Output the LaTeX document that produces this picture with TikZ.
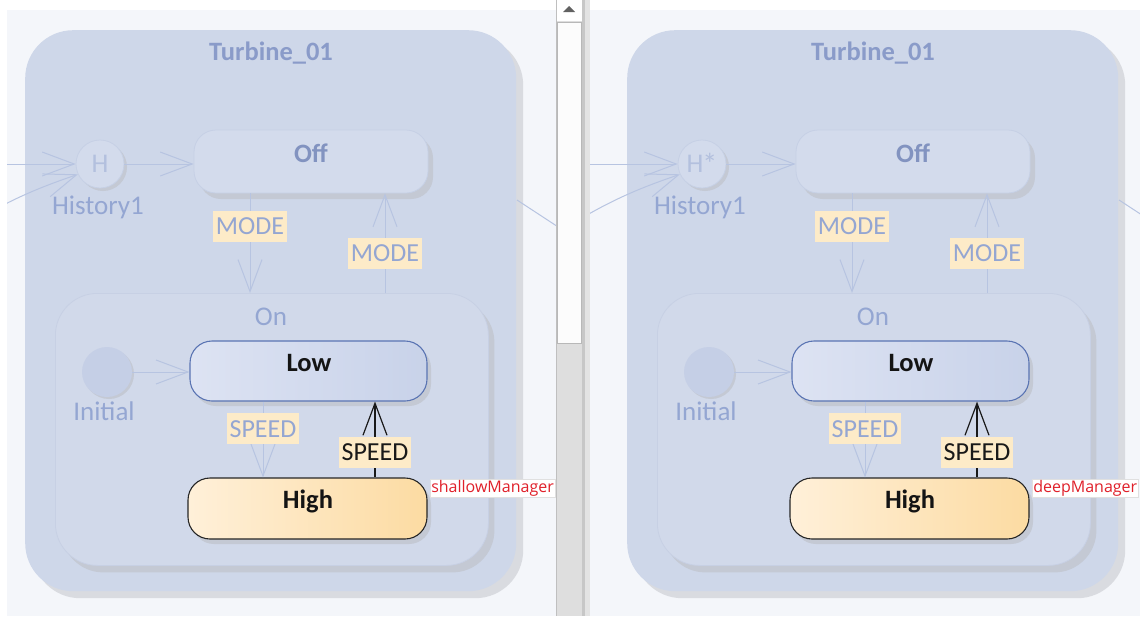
\documentclass[tikz,border=0pt]{standalone}
\usepackage{fontspec}
\setmainfont{Carlito}
\newfontfamily\mgrfont{Open Sans}
\usetikzlibrary{arrows.meta,shadows}

\definecolor{pagebg}{HTML}{F4F6FA}
\definecolor{panelc}{HTML}{CED7E9}
\definecolor{panelsh}{HTML}{D9DBE0}
\definecolor{titletxt}{HTML}{8A9BC9}
\definecolor{fadetxt}{HTML}{94A6D2}
\definecolor{offtxt}{HTML}{8293C0}
\definecolor{fadeline}{HTML}{B7C4E1}
\definecolor{labfill}{HTML}{FDEBC8}
\definecolor{onfill}{HTML}{D1D9EA}
\definecolor{onedge}{HTML}{C7D0E4}
\definecolor{innersh}{HTML}{C4C9D4}
\definecolor{offfill}{HTML}{D3DBEC}
\definecolor{offedge}{HTML}{C6D0E5}
\definecolor{lowL}{HTML}{DDE3F3}
\definecolor{lowR}{HTML}{C8D2E9}
\definecolor{lowedge}{HTML}{5A74B3}
\definecolor{highL}{HTML}{FFF0D9}
\definecolor{highR}{HTML}{FCDBA2}
\definecolor{mgrred}{HTML}{E0202A}
\definecolor{initfill}{HTML}{C5CFE6}
\definecolor{histtxt}{HTML}{B3C0DE}

\tikzset{
  panelbox/.style={draw=none, fill=panelc, rounded corners=48pt, inner sep=0pt,
    minimum width=491pt, minimum height=561pt,
    drop shadow={shadow xshift=7pt, shadow yshift=-7pt, fill=panelsh, opacity=1}},
  substate/.style={draw=onedge, line width=0.8pt, fill=onfill, rounded corners=42pt, inner sep=0pt,
    minimum width=433pt, minimum height=272pt,
    drop shadow={shadow xshift=6pt, shadow yshift=-7pt, fill=innersh, opacity=1}},
  offbox/.style={draw=offedge, line width=0.8pt, fill=offfill, rounded corners=22pt, inner sep=0pt,
    minimum width=234pt, minimum height=63pt,
    drop shadow={shadow xshift=5pt, shadow yshift=-6pt, fill=innersh, opacity=1}},
  lowbox/.style={draw=lowedge, line width=1.1pt, left color=lowL, right color=lowR, rounded corners=22pt,
    inner sep=0pt, minimum width=237pt, minimum height=60pt,
    drop shadow={shadow xshift=4pt, shadow yshift=-5pt, fill=innersh, opacity=1}},
  highbox/.style={draw=black!85, line width=1.1pt, left color=highL, right color=highR, rounded corners=22pt,
    inner sep=0pt, minimum width=239pt, minimum height=61pt,
    drop shadow={shadow xshift=4pt, shadow yshift=-5pt, fill=innersh, opacity=1}},
  histc/.style={circle, draw=offedge, line width=0.8pt, fill=offfill, minimum size=48pt, inner sep=0pt,
    text=histtxt, font=\fontsize{27}{28}\selectfont,
    drop shadow={shadow xshift=3pt, shadow yshift=-3pt, fill=innersh, opacity=1}},
  initc/.style={circle, fill=initfill, minimum size=50pt, inner sep=0pt,
    drop shadow={shadow xshift=2pt, shadow yshift=-2pt, fill=innersh, opacity=1}},
  paneltitle/.style={font=\bfseries\fontsize{26.5}{28}\selectfont, text=titletxt},
  fadetext/.style={font=\fontsize{27}{28}\selectfont, text=fadetxt},
  offtext/.style={font=\bfseries\fontsize{26.5}{28}\selectfont, text=offtxt},
  boldtxt/.style={font=\bfseries\fontsize{26.5}{28}\selectfont, text=black!92},
  fadelab/.style={fill=labfill, text=fadetxt, font=\fontsize{26}{28}\selectfont, inner sep=3pt,
    minimum height=31pt},
  actlab/.style={fill=labfill, text=black!90, font=\fontsize{26}{28}\selectfont, inner sep=3pt,
    minimum height=31pt},
  mgr/.style={fill=white, draw=black!12, line width=0.5pt, text=mgrred, inner xsep=1pt, inner ysep=1.2pt,
    font=\mgrfont\fontsize{16}{17}\selectfont},
  fadeline/.style={draw=fadeline, line width=1pt},
  fadearrow/.style={draw=fadeline, line width=1pt, -{Straight Barb[length=32pt,width=24pt]}},
  actarrow/.style={draw=black!90, line width=1.2pt, -{Straight Barb[length=32pt,width=24pt]}},
}

% #1 prefix, #2 xshift, #3 history text, #4 manager text, #5 left clip, #6 right clip
\newcommand\turbinepanel[6]{%
\begin{scope}[xshift=#2pt]
\begin{scope}
\clip (#5,10) rectangle (#6,616);
\fill[pagebg] (#5,10) rectangle (#6,616);
\node[panelbox, anchor=north west] (#1turb) at (25,30) {};
\node[paneltitle] (#1title) at (271,53) {Turbine\_01};
\node[substate, anchor=north west] (#1on) at (55,293) {};
\node[fadetext] (#1ontitle) at (271,317) {On};
\node[offbox] (#1off) at (311,161.5) {};
\node[offtext] (#1offt) at (311,153) {Off};
\node[histc] (#1hist) at (100,164) {#3};
\node[fadetext] (#1histl) at (98,207) {History1};
\node[initc] (#1init) at (107,372) {};
\node[fadetext] (#1initl) at (104,411) {Initial};
\node[lowbox] (#1low) at (308.5,371) {};
\node[boldtxt] (#1lowt) at (309,363) {Low};
\node[highbox] (#1high) at (307.5,508.5) {};
\node[boldtxt] (#1hight) at (308,501) {High};
\node[mgr, anchor=north west] (#1mgr) at (430,479) {#4};
\coordinate (#1xA) at (250,0);
\coordinate (#1xB) at (385,0);
\coordinate (#1xC) at (263,0);
\coordinate (#1xD) at (375,0);
\coordinate (#1inA) at (-30,164);
\coordinate (#1inB) at (-30,224);
\coordinate (#1outA) at (517,200);
\coordinate (#1outB) at (575,238);
\draw[fadearrow] (#1inA) -- (#1hist.west);
\draw[fadearrow] (#1inB) .. controls (15,196) and (50,184) .. (#1hist.205);
\draw[fadeline] (#1outA) -- (#1outB);
\draw[fadearrow] (#1hist.east) -- (#1hist.east -| #1off.west);
\draw[fadearrow] (#1init.east) -- (#1init.east -| #1low.west);
\draw[fadearrow] (#1off.south -| #1xA) -- node[fadelab, pos=0.33] (#1mA) {MODE} (#1on.north -| #1xA);
\draw[fadearrow] (#1on.north -| #1xB) -- node[fadelab, pos=0.40] (#1mB) {MODE} (#1off.south -| #1xB);
\draw[fadearrow] (#1low.south -| #1xC) -- node[fadelab, pos=0.36] (#1sA) {SPEED} (#1high.north -| #1xC);
\draw[actarrow] (#1high.north -| #1xD) -- node[actlab, pos=0.33] (#1sB) {SPEED} (#1low.south -| #1xD);
\end{scope}
\end{scope}}

\begin{document}
\begin{tikzpicture}[x=1pt, y=-1pt]
\useasboundingbox (0,0) rectangle (1140,616);
\fill[white] (0,0) rectangle (1140,616);
\turbinepanel{L}{0}{H}{shallowManager}{7}{556}
\turbinepanel{R}{602}{H\kern-1pt\raisebox{-2pt}{\fontsize{30}{30}\selectfont *}}{deepManager}{-12}{538}
% scrollbar
\fill[black!13] (556,0) rectangle (582,616);
\fill[white] (556,0) rectangle (582,21);
\fill[black!62] (563,12) -- (575,12) -- (569,6) -- cycle;
\draw[black!28, line width=0.8pt, fill=black!1] (557,22) rectangle (581,343);
\draw[black!25, line width=0.8pt] (556.4,0) -- (556.4,616);
\fill[black!22] (582,0) rectangle (584.5,616);
\fill[black!11] (584.5,0) rectangle (590,616);
\end{tikzpicture}
\end{document}
